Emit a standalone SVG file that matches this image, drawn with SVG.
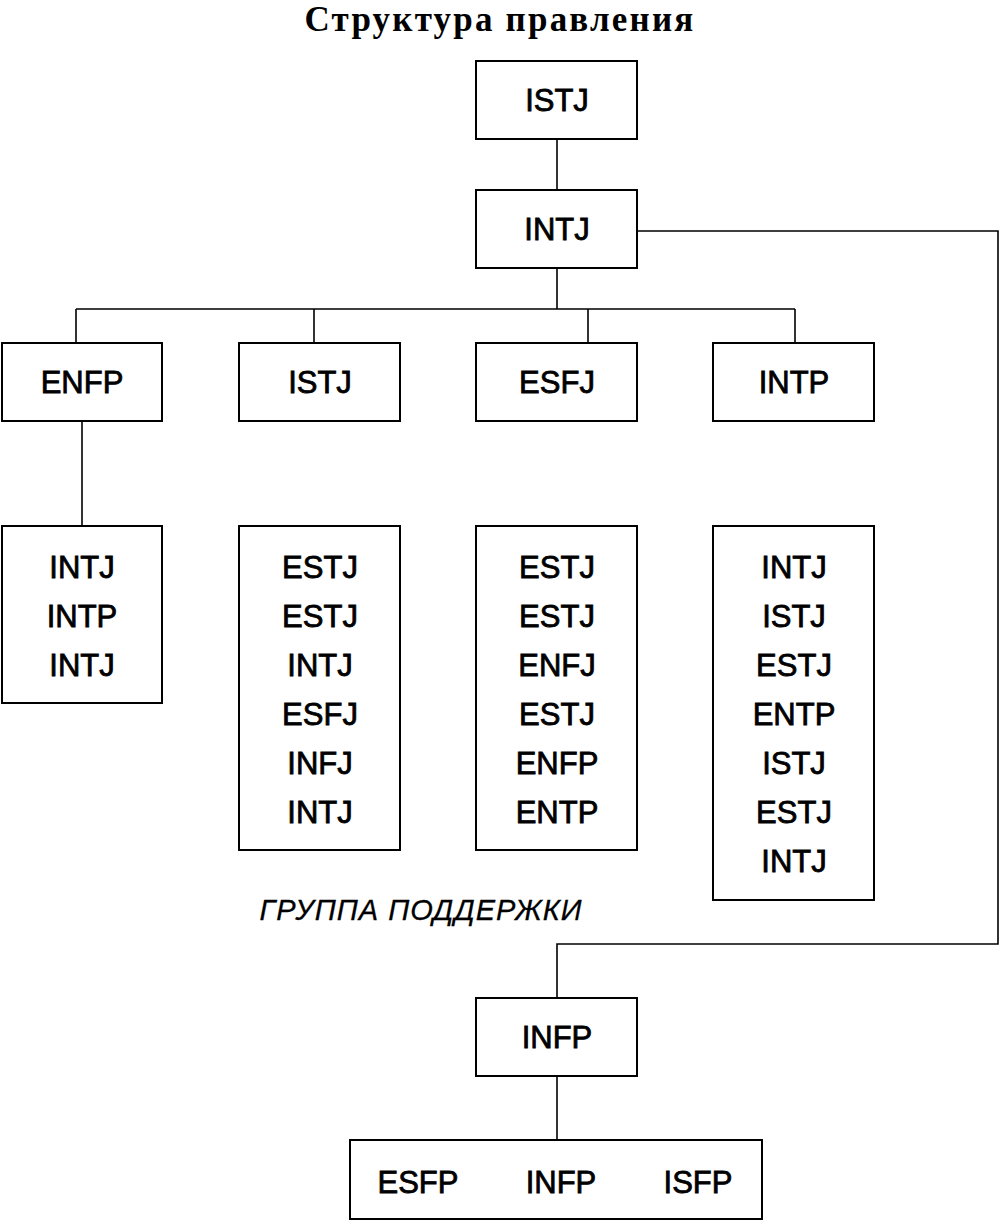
<svg xmlns="http://www.w3.org/2000/svg" width="1000" height="1221" viewBox="0 0 1000 1221">
<style>
.box{fill:#fff;stroke:#000;stroke-width:2}
.t{font-family:"Liberation Sans",Arial,sans-serif;font-size:31px;fill:#000;stroke:#000;stroke-width:0.8;text-anchor:middle}
.con{fill:none;stroke:#000;stroke-width:1.6}
.title{font-family:"Liberation Serif","Times New Roman",serif;font-weight:bold;font-size:35px;letter-spacing:2.2px;text-anchor:middle}
.lab{font-family:"Liberation Sans",Arial,sans-serif;font-style:italic;font-size:29px;letter-spacing:1px;text-anchor:middle;stroke:#000;stroke-width:0.3}
</style>
<rect width="1000" height="1221" fill="#fff"/>
<text class="title" x="500" y="31">Структура правления</text>
<g id="connectors">
<path class="con" d="M557 139V190"/>
<path class="con" d="M557 268V309M76 309H795M76 309V343M314 309V343M588 309V343M795 309V343"/>
<path class="con" d="M82 421V526"/>
<path class="con" d="M637 231H998V944H557V998"/>
<path class="con" d="M557 1076V1140"/>
</g>
<g id="n-istj-top"><rect class="box" x="476" y="61" width="161" height="78"/><text class="t" x="557" y="111">ISTJ</text></g>
<g id="n-intj"><rect class="box" x="476" y="190" width="161" height="78"/><text class="t" x="557" y="240">INTJ</text></g>
<g id="n-enfp"><rect class="box" x="2" y="343" width="160" height="78"/><text class="t" x="82" y="393">ENFP</text></g>
<g id="n-istj"><rect class="box" x="239" y="343" width="161" height="78"/><text class="t" x="320" y="393">ISTJ</text></g>
<g id="n-esfj"><rect class="box" x="476" y="343" width="161" height="78"/><text class="t" x="557" y="393">ESFJ</text></g>
<g id="n-intp"><rect class="box" x="713" y="343" width="161" height="78"/><text class="t" x="794" y="393">INTP</text></g>
<g id="l-enfp"><rect class="box" x="2" y="526" width="160" height="177"/>
<text class="t" x="82" y="578">INTJ</text><text class="t" x="82" y="627">INTP</text><text class="t" x="82" y="676">INTJ</text></g>
<g id="l-istj"><rect class="box" x="239" y="526" width="161" height="324"/>
<text class="t" x="320" y="578">ESTJ</text><text class="t" x="320" y="627">ESTJ</text><text class="t" x="320" y="676">INTJ</text><text class="t" x="320" y="725">ESFJ</text><text class="t" x="320" y="774">INFJ</text><text class="t" x="320" y="823">INTJ</text></g>
<g id="l-esfj"><rect class="box" x="476" y="526" width="161" height="324"/>
<text class="t" x="557" y="578">ESTJ</text><text class="t" x="557" y="627">ESTJ</text><text class="t" x="557" y="676">ENFJ</text><text class="t" x="557" y="725">ESTJ</text><text class="t" x="557" y="774">ENFP</text><text class="t" x="557" y="823">ENTP</text></g>
<g id="l-intp"><rect class="box" x="713" y="526" width="161" height="374"/>
<text class="t" x="794" y="578">INTJ</text><text class="t" x="794" y="627">ISTJ</text><text class="t" x="794" y="676">ESTJ</text><text class="t" x="794" y="725">ENTP</text><text class="t" x="794" y="774">ISTJ</text><text class="t" x="794" y="823">ESTJ</text><text class="t" x="794" y="872">INTJ</text></g>
<text class="lab" x="421" y="920">ГРУППА ПОДДЕРЖКИ</text>
<g id="n-infp"><rect class="box" x="476" y="998" width="161" height="78"/><text class="t" x="557" y="1048">INFP</text></g>
<g id="n-bottom"><rect class="box" x="350" y="1140" width="412" height="79"/>
<text class="t" x="418" y="1193">ESFP</text><text class="t" x="561" y="1193">INFP</text><text class="t" x="698" y="1193">ISFP</text></g>
</svg>
